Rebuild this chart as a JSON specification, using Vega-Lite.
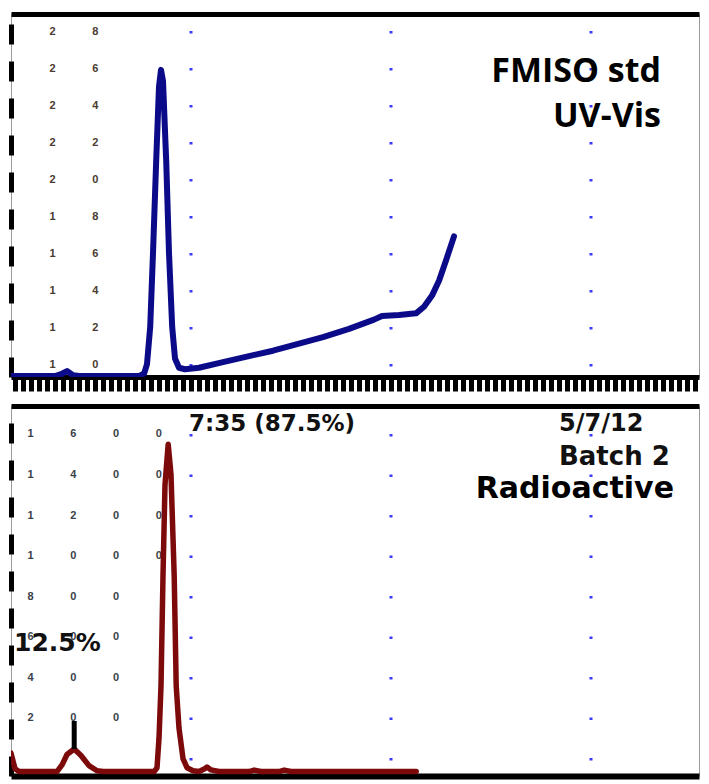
{
  "$schema": "https://vega.github.io/schema/vega-lite/v6.json",
  "background": "white",
  "padding": {"left": 10, "top": 12, "right": 9, "bottom": 5},
  "spacing": 10,
  "config": {"view": {"stroke": "#9a9a9a", "strokeWidth": 1}},
  "datasets": {
    "uv": [
      {"x": 0.5, "y": 9.35}, {"x": 1.6, "y": 9.35}, {"x": 1.75, "y": 9.45}, {"x": 1.9, "y": 9.62},
      {"x": 2.05, "y": 9.4}, {"x": 2.2, "y": 9.35}, {"x": 3.7, "y": 9.35}, {"x": 3.83, "y": 9.5},
      {"x": 3.9, "y": 10.0}, {"x": 3.98, "y": 12}, {"x": 4.05, "y": 16}, {"x": 4.13, "y": 21},
      {"x": 4.2, "y": 25}, {"x": 4.25, "y": 25.9}, {"x": 4.3, "y": 25.3}, {"x": 4.38, "y": 21},
      {"x": 4.45, "y": 16}, {"x": 4.53, "y": 12}, {"x": 4.6, "y": 10.3}, {"x": 4.7, "y": 9.8},
      {"x": 4.85, "y": 9.72}, {"x": 5.2, "y": 9.8}, {"x": 5.8, "y": 10.1}, {"x": 6.45, "y": 10.43},
      {"x": 7.05, "y": 10.72}, {"x": 7.7, "y": 11.1}, {"x": 8.3, "y": 11.45}, {"x": 8.95, "y": 11.9},
      {"x": 9.575, "y": 12.4}, {"x": 9.775, "y": 12.6}, {"x": 10.2, "y": 12.65}, {"x": 10.625, "y": 12.74},
      {"x": 10.825, "y": 13.1}, {"x": 11.025, "y": 13.7}, {"x": 11.2, "y": 14.5}, {"x": 11.375, "y": 15.6},
      {"x": 11.575, "y": 16.9}
    ],
    "radio": [
      {"x": 0.5, "y": 27}, {"x": 0.6, "y": -50}, {"x": 0.7, "y": -64}, {"x": 1.65, "y": -64},
      {"x": 1.78, "y": -30}, {"x": 1.9, "y": 20}, {"x": 2.08, "y": 47}, {"x": 2.25, "y": 15},
      {"x": 2.45, "y": -35}, {"x": 2.65, "y": -60}, {"x": 2.8, "y": -64}, {"x": 4.08, "y": -64},
      {"x": 4.15, "y": -46}, {"x": 4.2, "y": 100}, {"x": 4.25, "y": 358}, {"x": 4.3, "y": 900},
      {"x": 4.35, "y": 1350}, {"x": 4.43, "y": 1550}, {"x": 4.5, "y": 1400}, {"x": 4.58, "y": 900},
      {"x": 4.63, "y": 358}, {"x": 4.7, "y": 150}, {"x": 4.8, "y": 0}, {"x": 4.9, "y": -45},
      {"x": 5.05, "y": -60}, {"x": 5.2, "y": -64}, {"x": 5.33, "y": -52}, {"x": 5.4, "y": -42},
      {"x": 5.5, "y": -56}, {"x": 5.7, "y": -64}, {"x": 6.45, "y": -64}, {"x": 6.58, "y": -57},
      {"x": 6.75, "y": -64}, {"x": 7.2, "y": -64}, {"x": 7.33, "y": -57}, {"x": 7.5, "y": -64},
      {"x": 10.63, "y": -64}
    ],
    "grid": [{"x": 5}, {"x": 10}, {"x": 15}],
    "marker": [{"x": 2.08, "y": 47, "y2": 185}],
    "notesTop": [
      {"t": "FMISO std", "x": 16.75, "y": 25.24},
      {"t": "UV-Vis", "x": 16.75, "y": 22.81}
    ],
    "notesBottom": [
      {"t": "7:35 (87.5%)", "x": 4.95, "y": 1614},
      {"t": "5/7/12", "x": 14.2, "y": 1614},
      {"t": "Batch 2", "x": 14.2, "y": 1446},
      {"t": "Radioactive", "x": 17.075, "y": 1284},
      {"t": "12.5%", "x": 0.575, "y": 530}
    ]
  },
  "vconcat": [
    {
      "width": 688,
      "height": 363,
      "resolve": {"axis": {"x": "independent", "y": "independent"}},
      "layer": [
        {
          "data": {"name": "grid"},
          "mark": {"type": "rule", "color": "#3a3aff", "strokeWidth": 3, "strokeDash": [2.5, 34.5], "strokeDashOffset": 20},
          "encoding": {
            "x": {"field": "x", "type": "quantitative", "scale": {"domain": [0.5, 17.7], "nice": false, "zero": false},
              "axis": {"orient": "top", "labels": false, "ticks": false, "grid": false, "title": null, "domainColor": "#000", "domainWidth": 5}}
          }
        },
        {
          "data": {"name": "uv"},
          "mark": {"type": "line", "color": "#0b0b8a", "strokeWidth": 6, "strokeJoin": "round", "strokeCap": "round", "clip": true},
          "encoding": {
            "x": {"field": "x", "type": "quantitative", "scale": {"domain": [0.5, 17.7], "nice": false, "zero": false},
              "axis": {"orient": "bottom", "labels": false, "title": null, "grid": false, "tickCount": 70, "tickSize": 14, "tickWidth": 5, "tickColor": "#000", "domainColor": "#000", "domainWidth": 5}},
            "y": {"field": "y", "type": "quantitative", "scale": {"domain": [9.3, 28.92], "nice": false, "zero": false},
              "axis": {"orient": "left", "values": [10, 12, 14, 16, 18, 20, 22, 24, 26, 28], "title": null, "grid": false,
                "ticks": false, "domainColor": "#000", "domainWidth": 5, "domainDash": [20, 17],
                "labelAlign": "left", "labelPadding": -38, "labelOverlap": false,
                "labelExpr": "join(split(datum.label, ''), '\u00a0\u00a0\u00a0\u00a0\u00a0\u00a0\u00a0\u00a0\u00a0\u00a0\u00a0\u00a0')",
                "labelFont": "Liberation Sans", "labelFontSize": 11, "labelFontWeight": "bold", "labelColor": "#4a3b30"}}
          }
        },
        {
          "data": {"name": "notesTop"},
          "mark": {"type": "text", "align": "right", "baseline": "alphabetic", "font": "Open Sans", "fontSize": 34, "fontWeight": "bold", "color": "#000"},
          "encoding": {
            "x": {"field": "x", "type": "quantitative", "scale": {"domain": [0.5, 17.7], "nice": false, "zero": false}, "axis": null},
            "y": {"field": "y", "type": "quantitative", "scale": {"domain": [9.3, 28.92], "nice": false, "zero": false}, "axis": null},
            "text": {"field": "t"}
          }
        }
      ]
    },
    {
      "width": 688,
      "height": 370,
      "resolve": {"axis": {"x": "independent", "y": "independent"}},
      "layer": [
        {
          "data": {"name": "grid"},
          "mark": {"type": "rule", "color": "#3a3aff", "strokeWidth": 3, "strokeDash": [2.5, 38], "strokeDashOffset": 12.5},
          "encoding": {
            "x": {"field": "x", "type": "quantitative", "scale": {"domain": [0.5, 17.7], "nice": false, "zero": false},
              "axis": {"orient": "top", "labels": false, "ticks": false, "grid": false, "title": null, "domainColor": "#000", "domainWidth": 5}}
          }
        },
        {
          "data": {"name": "radio"},
          "mark": {"type": "line", "color": "#7d0a0a", "strokeWidth": 5.5, "strokeJoin": "round", "strokeCap": "round", "clip": true},
          "encoding": {
            "x": {"field": "x", "type": "quantitative", "scale": {"domain": [0.5, 17.7], "nice": false, "zero": false},
              "axis": {"orient": "bottom", "labels": false, "title": null, "grid": false, "ticks": false, "domainColor": "#000", "domainWidth": 6}},
            "y": {"field": "y", "type": "quantitative", "scale": {"domain": [-86, 1738], "nice": false, "zero": false},
              "axis": {"orient": "left", "values": [200, 400, 600, 800, 1000, 1200, 1400, 1600], "format": "d", "title": null, "grid": false,
                "ticks": false, "domainColor": "#000", "domainWidth": 5, "domainDash": [20, 17],
                "labelAlign": "left", "labelPadding": -16, "labelOverlap": false,
                "labelExpr": "join(split(datum.label, ''), '\u00a0\u00a0\u00a0\u00a0\u00a0\u00a0\u00a0\u00a0\u00a0\u00a0\u00a0\u00a0')",
                "labelFont": "Liberation Sans", "labelFontSize": 11, "labelFontWeight": "bold", "labelColor": "#3a3f4a"}}
          }
        },
        {
          "data": {"name": "marker"},
          "mark": {"type": "rule", "color": "#000", "strokeWidth": 5},
          "encoding": {
            "x": {"field": "x", "type": "quantitative", "scale": {"domain": [0.5, 17.7], "nice": false, "zero": false}, "axis": null},
            "y": {"field": "y", "type": "quantitative", "scale": {"domain": [-86, 1738], "nice": false, "zero": false}, "axis": null},
            "y2": {"field": "y2"}
          }
        },
        {
          "data": {"name": "notesBottom"},
          "transform": [{"filter": "datum.t == '7:35 (87.5%)'"}],
          "mark": {"type": "text", "align": "left", "baseline": "alphabetic", "font": "DejaVu Sans", "fontSize": 23, "fontWeight": "bold", "color": "#111"},
          "encoding": {
            "x": {"field": "x", "type": "quantitative", "scale": {"domain": [0.5, 17.7], "nice": false, "zero": false}, "axis": null},
            "y": {"field": "y", "type": "quantitative", "scale": {"domain": [-86, 1738], "nice": false, "zero": false}, "axis": null},
            "text": {"field": "t"}
          }
        },
        {
          "data": {"name": "notesBottom"},
          "transform": [{"filter": "datum.t == '5/7/12'"}],
          "mark": {"type": "text", "align": "left", "baseline": "alphabetic", "font": "DejaVu Sans", "fontSize": 24, "fontWeight": "bold", "color": "#111"},
          "encoding": {
            "x": {"field": "x", "type": "quantitative", "scale": {"domain": [0.5, 17.7], "nice": false, "zero": false}, "axis": null},
            "y": {"field": "y", "type": "quantitative", "scale": {"domain": [-86, 1738], "nice": false, "zero": false}, "axis": null},
            "text": {"field": "t"}
          }
        },
        {
          "data": {"name": "notesBottom"},
          "transform": [{"filter": "datum.t == 'Batch 2'"}],
          "mark": {"type": "text", "align": "left", "baseline": "alphabetic", "font": "DejaVu Sans", "fontSize": 26, "fontWeight": "bold", "color": "#111"},
          "encoding": {
            "x": {"field": "x", "type": "quantitative", "scale": {"domain": [0.5, 17.7], "nice": false, "zero": false}, "axis": null},
            "y": {"field": "y", "type": "quantitative", "scale": {"domain": [-86, 1738], "nice": false, "zero": false}, "axis": null},
            "text": {"field": "t"}
          }
        },
        {
          "data": {"name": "notesBottom"},
          "transform": [{"filter": "datum.t == 'Radioactive'"}],
          "mark": {"type": "text", "align": "right", "baseline": "alphabetic", "font": "DejaVu Sans", "fontSize": 30, "fontWeight": "bold", "color": "#000"},
          "encoding": {
            "x": {"field": "x", "type": "quantitative", "scale": {"domain": [0.5, 17.7], "nice": false, "zero": false}, "axis": null},
            "y": {"field": "y", "type": "quantitative", "scale": {"domain": [-86, 1738], "nice": false, "zero": false}, "axis": null},
            "text": {"field": "t"}
          }
        },
        {
          "data": {"name": "notesBottom"},
          "transform": [{"filter": "datum.t == '12.5%'"}],
          "mark": {"type": "text", "align": "left", "baseline": "alphabetic", "font": "DejaVu Sans", "fontSize": 25, "fontWeight": "bold", "color": "#111"},
          "encoding": {
            "x": {"field": "x", "type": "quantitative", "scale": {"domain": [0.5, 17.7], "nice": false, "zero": false}, "axis": null},
            "y": {"field": "y", "type": "quantitative", "scale": {"domain": [-86, 1738], "nice": false, "zero": false}, "axis": null},
            "text": {"field": "t"}
          }
        }
      ]
    }
  ]
}
